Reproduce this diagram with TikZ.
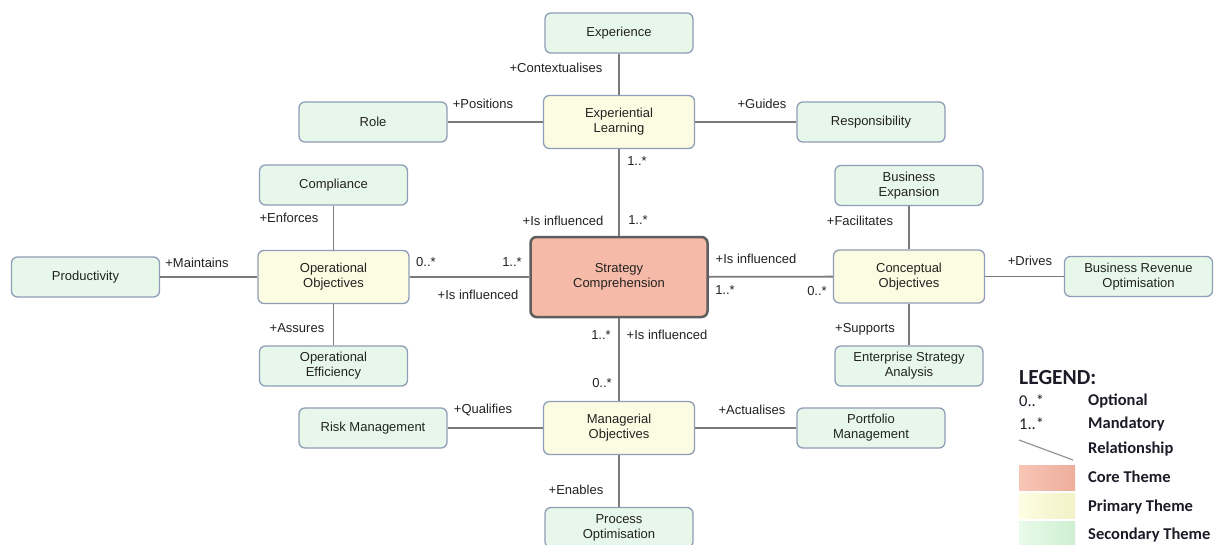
\documentclass[tikz,border=0pt]{standalone}
\usepackage{fontspec}
\setmainfont{Liberation Sans}
\newfontfamily\legendfont{Carlito}
\definecolor{txt}{HTML}{222222}
\definecolor{boxline}{HTML}{8E9DB8}
\definecolor{coreline}{HTML}{5E5E5E}
\definecolor{connline}{HTML}{7A7A7A}
\definecolor{secfill}{HTML}{E7F8EA}
\definecolor{prifill}{HTML}{FCFCE2}
\definecolor{corefill}{HTML}{F6BAA8}
\definecolor{legtxt}{HTML}{1C1C28}
\definecolor{swCoreL}{HTML}{F8C5B5}
\definecolor{swCoreR}{HTML}{EDAE9D}
\definecolor{swPriL}{HTML}{FDFDE2}
\definecolor{swPriR}{HTML}{F3F1C6}
\definecolor{swSecL}{HTML}{EAFBEA}
\definecolor{swSecR}{HTML}{CDEFD1}
\begin{document}
\begin{tikzpicture}[x=1pt,y=-1pt,
  box/.style={draw=boxline, line width=1.3pt, rounded corners=6pt, align=center,
    font=\fontsize{13}{15}\selectfont, text=txt, inner sep=2pt},
  sec/.style={box, minimum width=148pt, minimum height=40pt, fill=secfill},
  pri/.style={box, minimum width=151pt, minimum height=53pt, fill=prifill},
  core/.style={box, draw=coreline, line width=2.5pt, minimum width=177pt, minimum height=80pt,
    fill=corefill},
  conn/.style={draw=connline, line width=1.8pt},
  lbl/.style={font=\fontsize{13}{15}\selectfont, text=txt, inner sep=0pt},
  legtitle/.style={font=\legendfont\bfseries\fontsize{21.5}{23}\selectfont, text=legtxt, inner sep=0pt, anchor=west},
  legitem/.style={font=\legendfont\bfseries\fontsize{16.5}{18}\selectfont, text=legtxt, inner sep=0pt, anchor=west},
  legmult/.style={font=\legendfont\fontsize{16.5}{18}\selectfont, text=legtxt, inner sep=0pt, anchor=west},
  swatch/.style={inner sep=0pt, minimum width=56pt, minimum height=25pt}
]
\useasboundingbox[fill=white] (0,0) rectangle (1220,544);

% --- themes ---
\node[core] (sc) at (619,277) {Strategy\\Comprehension};

\node[pri] (el) at (619,122) {Experiential\\Learning};
\node[pri] (oo) at (333.5,277) {Operational\\Objectives};
\node[pri] (co) at (909,276.5) {Conceptual\\Objectives};
\node[pri] (mo) at (619,428) {Managerial\\Objectives};

\node[sec] (exp)  at (619,33)      {Experience};
\node[sec] (role) at (373,122)     {Role};
\node[sec] (resp) at (871,122)     {Responsibility};
\node[sec] (comp) at (333.5,185)   {Compliance};
\node[sec] (prod) at (85.5,277)    {Productivity};
\node[sec] (oe)   at (333.5,366)   {Operational\\Efficiency};
\node[sec] (be)   at (909,185.5)   {Business\\Expansion};
\node[sec] (bro)  at (1138.5,276.5){Business Revenue\\Optimisation};
\node[sec] (esa)  at (909,366)     {Enterprise Strategy\\Analysis};
\node[sec] (rm)   at (373,428)     {Risk Management};
\node[sec] (pm)   at (871,428)     {Portfolio\\Management};
\node[sec] (po)   at (619,527.5)   {Process\\Optimisation};

% --- relationships ---
\draw[conn] (exp) -- (el);
\draw[conn] (role) -- (el);
\draw[conn] (el) -- (resp);
\draw[conn] (el) -- (sc);
\draw[conn] (comp) -- (oo);
\draw[conn] (prod) -- (oo);
\draw[conn] (oo) -- (oe);
\draw[conn] (oo) -- (sc);
\draw[conn] (sc) -- (co);
\draw[conn] (be) -- (co);
\draw[conn] (co) -- (bro);
\draw[conn] (co) -- (esa);
\draw[conn] (sc) -- (mo);
\draw[conn] (rm) -- (mo);
\draw[conn] (mo) -- (pm);
\draw[conn] (mo) -- (po);

% --- relationship labels ---
\node[lbl] (l1)  at (556,68)   {+Contextualises};
\node[lbl] (l2)  at (483,104)  {+Positions};
\node[lbl] (l3)  at (762,104)  {+Guides};
\node[lbl] (l4)  at (637,161)  {1..*};
\node[lbl] (l5)  at (563,221)  {+Is influenced};
\node[lbl] (l6)  at (638,220)  {1..*};
\node[lbl] (l7)  at (289,218)  {+Enforces};
\node[lbl] (l8)  at (426,262)  {0..*};
\node[lbl] (l9)  at (512,262)  {1..*};
\node[lbl] (l10) at (478,295)  {+Is influenced};
\node[lbl] (l11) at (197,263)  {+Maintains};
\node[lbl] (l12) at (297,328)  {+Assures};
\node[lbl] (l13) at (756,259)  {+Is influenced};
\node[lbl] (l14) at (725,290)  {1..*};
\node[lbl] (l15) at (817,291)  {0..*};
\node[lbl] (l16) at (860,221)  {+Facilitates};
\node[lbl] (l17) at (1030,261) {+Drives};
\node[lbl] (l18) at (865,329)  {+Supports};
\node[lbl] (l19) at (601,335)  {1..*};
\node[lbl] (l20) at (667,335)  {+Is influenced};
\node[lbl] (l21) at (602,383)  {0..*};
\node[lbl] (l22) at (483,410)  {+Qualifies};
\node[lbl] (l23) at (752,410)  {+Actualises};
\node[lbl] (l24) at (576,490)  {+Enables};

% --- legend ---
\node[legtitle] (lg) at (1019,378) {LEGEND:};
\node[legmult] (lg0) at (1019,401) {0..*};
\node[legitem] (lgo) at (1088,401) {Optional};
\node[legmult] (lg1) at (1019,424) {1..*};
\node[legitem] (lgm) at (1088,424) {Mandatory};
\coordinate (rl1) at (1019,440);
\coordinate (rl2) at (1073,460);
\draw[draw=connline!80, line width=1.2pt] (rl1) -- (rl2);
\node[legitem] (lgr) at (1088,449) {Relationship};
\node[swatch, left color=swCoreL, right color=swCoreR] (swc) at (1047,478) {};
\node[legitem] (lgc) at (1088,477) {Core Theme};
\node[swatch, left color=swPriL, right color=swPriR] (swp) at (1047,506) {};
\node[legitem] (lgp) at (1088,507) {Primary Theme};
\node[swatch, left color=swSecL, right color=swSecR] (sws) at (1047,534) {};
\node[legitem] (lgs) at (1088,535) {Secondary Theme};
\end{tikzpicture}
\end{document}
